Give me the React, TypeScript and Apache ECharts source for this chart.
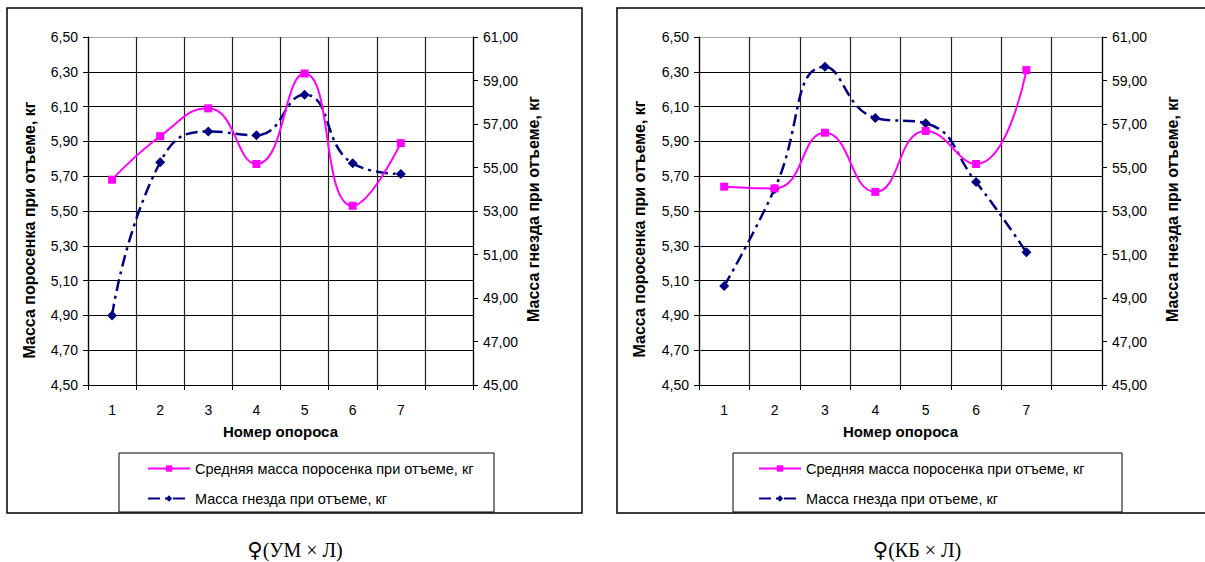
import React, { useEffect, useRef } from "react";
import * as echarts from "echarts";

const categories = ["1", "2", "3", "4", "5", "6", "7", ""];
const umPiglet = [5.68, 5.93, 6.09, 5.77, 6.29, 5.53, 5.89];
const umNest = [48.2, 55.24, 56.66, 56.48, 58.35, 55.19, 54.7];
const kbPiglet = [5.64, 5.63, 5.95, 5.61, 5.96, 5.77, 6.31];
const kbNest = [49.55, 54.01, 59.63, 57.28, 57.03, 54.33, 51.1];
const leftTicks = [4.5, 4.7, 4.9, 5.1, 5.3, 5.5, 5.7, 5.9, 6.1, 6.3, 6.5];
const rightTicks = [45, 47, 49, 51, 53, 55, 57, 59, 61];

const pigletName = "Средняя масса поросенка при отъеме, кг";
const nestName = "Масса гнезда при отъеме, кг";
const leftAxisName = "Масса поросенка при отъеме, кг";
const rightAxisName = "Масса гнезда при отъеме, кг";
const xAxisName = "Номер опороса";
const captionSymbol = "♀";
const captions = ["(УМ × Л)", "(КБ × Л)"];

const FONT = "'Liberation Sans', Arial, sans-serif";
const fmt = (v: number) => v.toFixed(2).replace(".", ",");

export default function App() {
  const ref = useRef<HTMLDivElement>(null);
  useEffect(() => {
    if (!ref.current) return;
    const chart = echarts.init(ref.current, null, { renderer: "svg" });

    const grids = [
      { left: 88, top: 37, width: 385, height: 348 },
      { left: 699, top: 37, width: 403, height: 348 },
    ];
    const hColors = leftTicks.map((_, i) => (i === leftTicks.length - 1 ? "#a8a8a8" : "#000"));

    const xAxes = grids.map((_, i) => ({
      type: "category",
      gridIndex: i,
      data: categories,
      boundaryGap: true,
      axisLine: { lineStyle: { color: "#000", width: 1.2 } },
      axisTick: { show: true, length: 5, lineStyle: { color: "#000" } },
      axisLabel: { color: "#000", fontFamily: FONT, fontSize: 14, margin: 18 },
      splitLine: { show: true, lineStyle: { color: "#222", width: 1.2 } },
      name: xAxisName,
      nameLocation: "middle",
      nameGap: 39,
      nameTextStyle: { color: "#000", fontFamily: FONT, fontSize: 15, fontWeight: "bold" },
    }));

    const yAxes: any[] = [];
    grids.forEach((_, i) => {
      yAxes.push({
        type: "value",
        gridIndex: i,
        position: "left",
        min: 4.5,
        max: 6.5,
        axisLine: { show: true, lineStyle: { color: "#000", width: 1.2 } },
        axisTick: { show: true, length: 5, customValues: leftTicks, lineStyle: { color: "#000" } },
        axisLabel: { color: "#000", fontFamily: FONT, fontSize: 14, margin: 10, customValues: leftTicks, formatter: fmt },
        splitLine: { show: true, lineStyle: { color: hColors, width: 1.2 } },
      });
      yAxes.push({
        type: "value",
        gridIndex: i,
        position: "right",
        min: 45,
        max: 61,
        axisLine: { show: true, lineStyle: { color: "#000", width: 1.2 } },
        axisTick: { show: true, length: 5, customValues: rightTicks, lineStyle: { color: "#000" } },
        axisLabel: { color: "#000", fontFamily: FONT, fontSize: 14, margin: 10, customValues: rightTicks, formatter: fmt },
        splitLine: { show: false },
      });
    });

    const pigSeries = (i: number, data: number[]) => ({
      type: "line",
      name: pigletName,
      xAxisIndex: i,
      yAxisIndex: i * 2,
      data,
      smooth: 0.5,
      symbol: "rect",
      symbolSize: 8,
      itemStyle: { color: "#FF00FF" },
      lineStyle: { color: "#FF00FF", width: 2 },
      z: 3,
    });
    const nestSeries = (i: number, data: number[]) => ({
      type: "line",
      name: nestName,
      xAxisIndex: i,
      yAxisIndex: i * 2 + 1,
      data,
      smooth: 0.5,
      symbol: "diamond",
      symbolSize: 10,
      itemStyle: { color: "#000080" },
      lineStyle: { color: "#000080", width: 2.5, type: [12, 5, 3, 5] },
      z: 2,
    });

    const legendCommon = {
      orient: "vertical",
      top: 461,
      itemWidth: 42,
      itemHeight: 8,
      itemGap: 15,
      padding: 0,
      selectedMode: false,
      textStyle: { color: "#000", fontFamily: FONT, fontSize: 14.5 },
      data: [pigletName, nestName],
    };

    const caption = (x: number, text: string) => ({
      type: "text",
      x,
      y: 550,
      style: {
        text: `{s|${captionSymbol}}{t|${text}}`,
        fill: "#000",
        textAlign: "center",
        textVerticalAlign: "middle",
        rich: {
          s: { fontFamily: "'DejaVu Sans', sans-serif", fontSize: 21, fill: "#000" },
          t: { fontFamily: "'Liberation Serif', 'Times New Roman', serif", fontSize: 20, fill: "#000" },
        },
      },
    });

    const vName = (x: number, y: number, text: string) => ({
      type: "text",
      x,
      y,
      rotation: Math.PI / 2,
      silent: true,
      style: {
        text,
        fill: "#000",
        font: `bold 16px ${FONT}`,
        textAlign: "center",
        textVerticalAlign: "middle",
      },
    });

    chart.setOption({
      animation: false,
      backgroundColor: "#fff",
      grid: grids,
      xAxis: xAxes,
      yAxis: yAxes,
      legend: [
        { ...legendCommon, left: 147 },
        { ...legendCommon, left: 758 },
      ],
      series: [
        pigSeries(0, umPiglet),
        nestSeries(0, umNest),
        pigSeries(1, kbPiglet),
        nestSeries(1, kbNest),
      ],
      graphic: [
        { type: "rect", shape: { x: 7, y: 8, width: 575, height: 505 }, style: { fill: "none", stroke: "#000", lineWidth: 1.5 }, silent: true },
        { type: "rect", shape: { x: 617, y: 8, width: 620, height: 505 }, style: { fill: "none", stroke: "#000", lineWidth: 1.5 }, silent: true },
        { type: "rect", shape: { x: 119, y: 453, width: 375, height: 59 }, style: { fill: "none", stroke: "#000", lineWidth: 1 }, silent: true },
        { type: "rect", shape: { x: 733, y: 453, width: 389, height: 59 }, style: { fill: "none", stroke: "#000", lineWidth: 1 }, silent: true },
        vName(29, 230, leftAxisName),
        vName(533, 209, rightAxisName),
        vName(639, 229, leftAxisName),
        vName(1172, 209, rightAxisName),
        caption(295, captions[0]),
        caption(917, captions[1]),
      ],
    });

    return () => chart.dispose();
  }, []);

  return (
    <div
      ref={ref}
      style={{ position: "absolute", left: 0, top: 0, width: 1205, height: 562 }}
    />
  );
}
